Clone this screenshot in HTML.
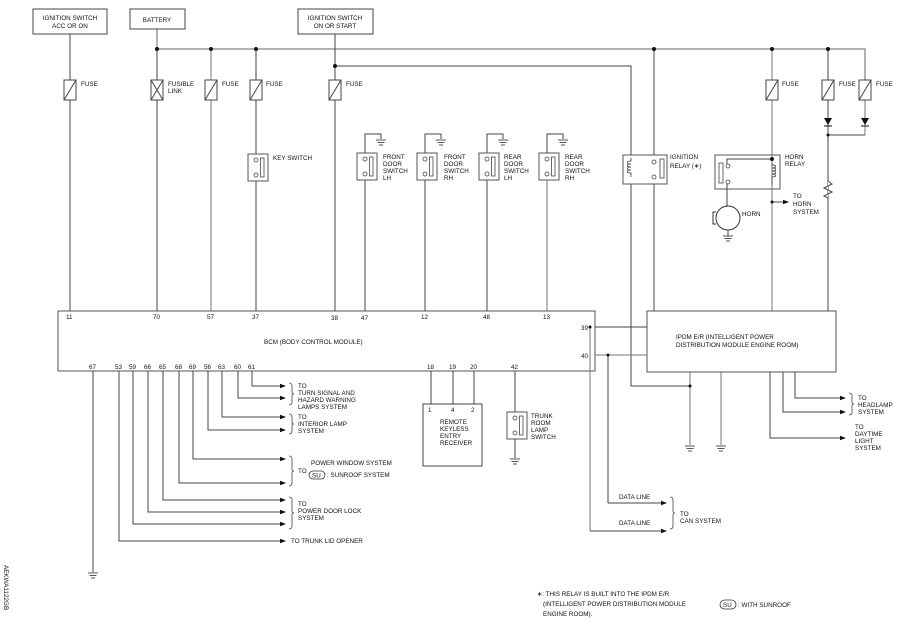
<!DOCTYPE html>
<html><head><meta charset="utf-8"><style>
html,body{margin:0;padding:0;background:#fff;}
svg{display:block;}
text{font-family:"Liberation Sans",sans-serif;font-size:6.3px;fill:#111;}
</style></head><body>
<svg width="907" height="633" viewBox="0 0 907 633" xmlns="http://www.w3.org/2000/svg">
<defs>
<marker id="ar" markerWidth="6" markerHeight="6" refX="5" refY="3" orient="auto" markerUnits="userSpaceOnUse"><path d="M0,0.8 L6,3 L0,5.2z" fill="#111"/></marker>
<g id="fuse"><rect x="-6" y="0" width="12" height="20" fill="#fff" stroke="#444" stroke-width="1"/><line x1="-6" y1="20" x2="6" y2="0" stroke="#444"/></g>
<g id="gnd"><line x1="-5" y1="0" x2="5" y2="0" stroke="#555"/><line x1="-3.5" y1="2.5" x2="3.5" y2="2.5" stroke="#555"/><line x1="-2" y1="5" x2="2" y2="5" stroke="#555"/></g>
<g id="sw"><rect x="0" y="0" width="20" height="27" fill="#fff" stroke="#555"/><circle cx="8" cy="6" r="2" fill="#fff" stroke="#444" stroke-width="0.8"/><circle cx="8" cy="21" r="2" fill="#fff" stroke="#444" stroke-width="0.8"/><rect x="12.5" y="4" width="3.5" height="19" fill="#fff" stroke="#444" stroke-width="0.8"/></g>
</defs>
<g stroke="#444" stroke-width="1" fill="none">
<!-- top boxes -->
<rect x="33" y="9" width="74" height="25"/>
<rect x="130" y="9" width="55" height="20"/>
<rect x="298" y="9" width="75" height="25"/>
<!-- bus -->
<polyline points="157,29 157,49 865,49 865,80" stroke="#666"/>
<polyline points="335,34 335,311"/>
<polyline points="335,66 631,66 631,160"/>
<line x1="70" y1="34" x2="70" y2="311"/>
<line x1="157" y1="49" x2="157" y2="311"/>
<line x1="211" y1="49" x2="211" y2="311" stroke="#777"/>
<line x1="256" y1="49" x2="256" y2="311"/>
<line x1="654" y1="49" x2="654" y2="311"/>
<line x1="772" y1="49" x2="772" y2="311" stroke="#777"/>
<line x1="828" y1="49" x2="828" y2="311"/>
<line x1="865" y1="80" x2="865" y2="135" stroke="#777"/>
<line x1="828" y1="135" x2="865" y2="135"/>
<!-- door switch grounds & wires -->
<polyline points="365,311 365,134 381,134 381,139"/>
<polyline points="425,311 425,134 441,134 441,139"/>
<polyline points="487,311 487,134 503,134 503,139"/>
<polyline points="547,311 547,134 563,134 563,139"/>
<line x1="547" y1="180" x2="547" y2="311" stroke="#777"/>
<!-- ignition relay lines -->
<polyline points="631,177 631,386 690,386"/>
<line x1="690" y1="372" x2="690" y2="445" stroke="#777"/>
<line x1="721" y1="372" x2="721" y2="445" stroke="#777"/>
<!-- horn relay -->
<polyline points="727,165 727,159 772,159"/>
<line x1="727" y1="182" x2="727" y2="206"/>
<line x1="772" y1="202" x2="788" y2="202" marker-end="url(#ar)"/>
<line x1="728" y1="230" x2="728" y2="236"/>
<!-- BCM & IPDM -->
<rect x="58" y="311" width="537" height="60" stroke="#555"/>
<rect x="647" y="311" width="189" height="61" stroke="#555"/>
<line x1="595" y1="327" x2="647" y2="327"/>
<line x1="595" y1="355" x2="647" y2="355" stroke="#777"/>
<line x1="590" y1="327" x2="590" y2="531" stroke="#777"/>
<line x1="608" y1="355" x2="608" y2="503"/>
<line x1="608" y1="503" x2="666" y2="503" marker-end="url(#ar)"/>
<line x1="590" y1="531" x2="666" y2="531" marker-end="url(#ar)"/>
<polyline points="795,372 795,398 845,398" marker-end="url(#ar)"/>
<polyline points="783,372 783,412 845,412" marker-end="url(#ar)"/>
<polyline points="770,372 770,438 845,438" marker-end="url(#ar)"/>
<!-- BCM bottom outputs -->
<polyline points="252,371 252,386 285,386" marker-end="url(#ar)"/>
<polyline points="238,371 238,398 285,398" marker-end="url(#ar)"/>
<polyline points="222,371 222,417 285,417" marker-end="url(#ar)"/>
<polyline points="208,371 208,430 285,430" marker-end="url(#ar)"/>
<polyline points="193,371 193,459 285,459" marker-end="url(#ar)"/>
<polyline points="179,371 179,483 285,483" marker-end="url(#ar)"/>
<polyline points="163,371 163,500 285,500" marker-end="url(#ar)"/>
<polyline points="148,371 148,512 285,512" marker-end="url(#ar)"/>
<polyline points="133,371 133,524 285,524" marker-end="url(#ar)"/>
<polyline points="119,371 119,541 285,541" marker-end="url(#ar)"/>
<line x1="93" y1="371" x2="93" y2="572"/>
<!-- keyless -->
<line x1="431" y1="371" x2="431" y2="404"/>
<line x1="453" y1="371" x2="453" y2="404"/>
<line x1="474" y1="371" x2="474" y2="404"/>
<rect x="423" y="404" width="59" height="62"/>
<line x1="515" y1="371" x2="515" y2="458"/>
<!-- braces -->
<path d="M289,383 q3,0 3,3 v6 q0,2 2,2 q-2,0 -2,2 v6 q0,3 -3,3" stroke-width="0.8"/>
<path d="M289,414 q3,0 3,3 v5 q0,2 2,2 q-2,0 -2,2 v5 q0,3 -3,3" stroke-width="0.8"/>
<path d="M289,456 q3,0 3,3 v10 q0,2 2,2 q-2,0 -2,2 v10 q0,3 -3,3" stroke-width="0.8"/>
<path d="M289,497 q3,0 3,3 v11 q0,2 2,2 q-2,0 -2,2 v11 q0,3 -3,3" stroke-width="0.8"/>
<path d="M670,497 q3,0 3,3 v11 q0,2 2,2 q-2,0 -2,2 v11 q0,3 -3,3" stroke-width="0.8"/>
<path d="M849,393 q3,0 3,3 v6 q0,2 2,2 q-2,0 -2,2 v6 q0,3 -3,3" stroke-width="0.8"/>
<!-- resistor -->
<polyline points="828,178 828,181 832,184 824,188 832,192 824,196 828,198 828,200" fill="#fff" stroke="#444"/>
</g>
<!-- fuses -->
<use href="#fuse" x="70" y="80"/>
<g><rect x="151" y="80" width="12" height="20" fill="#fff" stroke="#444"/><line x1="151" y1="80" x2="163" y2="100" stroke="#444"/><line x1="151" y1="100" x2="163" y2="80" stroke="#444"/></g>
<use href="#fuse" x="211" y="80"/>
<use href="#fuse" x="256" y="80"/>
<use href="#fuse" x="335" y="80"/>
<use href="#fuse" x="772" y="80"/>
<use href="#fuse" x="828" y="80"/>
<use href="#fuse" x="865" y="80"/>
<!-- diodes -->
<path d="M824,118 L832,118 L828,125z" fill="#111"/><line x1="824" y1="126" x2="832" y2="126" stroke="#111"/>
<path d="M861,118 L869,118 L865,125z" fill="#111"/><line x1="861" y1="126" x2="869" y2="126" stroke="#111"/>
<!-- switches -->
<use href="#sw" x="248" y="154"/>
<use href="#sw" x="357" y="153"/>
<use href="#sw" x="417" y="153"/>
<use href="#sw" x="479" y="153"/>
<use href="#sw" x="539" y="153"/>
<use href="#sw" x="507" y="412"/>
<!-- grounds -->
<use href="#gnd" x="381" y="140"/><use href="#gnd" x="441" y="140"/><use href="#gnd" x="503" y="140"/><use href="#gnd" x="563" y="140"/>
<use href="#gnd" x="690" y="446"/><use href="#gnd" x="721" y="446"/>
<use href="#gnd" x="515" y="459"/><use href="#gnd" x="93" y="573"/><use href="#gnd" x="728" y="236"/>
<!-- ignition relay -->
<rect x="623" y="155" width="44" height="29" fill="#fff" stroke="#555"/>
<path d="M631,158 v3 c-5,0 -5,3 0,3 c-5,0 -5,3 0,3 c-5,0 -5,3 0,3 c-5,0 -5,3 0,3 v4" fill="none" stroke="#333" stroke-width="0.8"/>
<circle cx="654" cy="162" r="2" fill="#fff" stroke="#444" stroke-width="0.8"/>
<circle cx="654" cy="177" r="2" fill="#fff" stroke="#444" stroke-width="0.8"/>
<rect x="660" y="159" width="4" height="19" fill="#fff" stroke="#444" stroke-width="0.8"/>
<!-- horn relay -->
<rect x="715" y="155" width="65" height="34" fill="none" stroke="#555"/>
<path d="M772,163 v2 c5,0 5,3 0,3 c5,0 5,3 0,3 c5,0 5,3 0,3 c5,0 5,3 0,3 v8" fill="none" stroke="#333" stroke-width="0.8"/>
<rect x="719" y="163" width="4" height="20" fill="#fff" stroke="#444" stroke-width="0.8"/>
<circle cx="728" cy="166" r="2" fill="#fff" stroke="#444" stroke-width="0.8"/>
<circle cx="728" cy="182" r="2" fill="#fff" stroke="#444" stroke-width="0.8"/>
<circle cx="728" cy="218" r="12" fill="#fff" stroke="#333"/>
<path d="M716,212 h-3 v12 h3" fill="none" stroke="#333"/>
<!-- dots -->
<g fill="#111">
<circle cx="157" cy="49" r="2"/><circle cx="211" cy="49" r="2"/><circle cx="256" cy="49" r="2"/><circle cx="654" cy="49" r="2"/><circle cx="772" cy="49" r="2"/><circle cx="828" cy="49" r="2"/><circle cx="335" cy="66" r="2"/><circle cx="828" cy="135" r="1.5"/><circle cx="772" cy="159" r="2"/><circle cx="772" cy="202" r="1.5"/><circle cx="590" cy="327" r="1.5"/><circle cx="608" cy="355" r="1.5"/><circle cx="690" cy="386" r="1.5"/>
</g>
<!-- text -->
<g text-anchor="middle">
<text x="70" y="20">IGNITION SWITCH</text><text x="70" y="28">ACC OR ON</text>
<text x="157" y="22">BATTERY</text>
<text x="335" y="20">IGNITION SWITCH</text><text x="335" y="28">ON OR START</text>
</g>
<text x="81" y="86">FUSE</text>
<text x="168" y="86">FUSIBLE</text><text x="168" y="93">LINK</text>
<text x="222" y="86">FUSE</text><text x="266" y="86">FUSE</text><text x="346" y="86">FUSE</text>
<text x="782" y="86">FUSE</text><text x="839" y="86">FUSE</text><text x="876" y="86">FUSE</text>
<text x="273" y="160">KEY SWITCH</text>
<text x="383" y="159">FRONT</text><text x="383" y="166">DOOR</text><text x="383" y="173">SWITCH</text><text x="383" y="180">LH</text>
<text x="444" y="159">FRONT</text><text x="444" y="166">DOOR</text><text x="444" y="173">SWITCH</text><text x="444" y="180">RH</text>
<text x="504" y="159">REAR</text><text x="504" y="166">DOOR</text><text x="504" y="173">SWITCH</text><text x="504" y="180">LH</text>
<text x="565" y="159">REAR</text><text x="565" y="166">DOOR</text><text x="565" y="173">SWITCH</text><text x="565" y="180">RH</text>
<text x="670" y="159">IGNITION</text><text x="670" y="168">RELAY (∗)</text>
<text x="785" y="159">HORN</text><text x="785" y="166">RELAY</text>
<text x="742" y="216">HORN</text>
<text x="793" y="198">TO</text><text x="793" y="206">HORN</text><text x="793" y="214">SYSTEM</text>
<text x="66" y="319">11</text><text x="153" y="319">70</text><text x="207" y="319">57</text><text x="252" y="319">37</text><text x="331" y="320">38</text><text x="361" y="320">47</text><text x="421" y="319">12</text><text x="483" y="319">48</text><text x="543" y="319">13</text>
<text x="264" y="344">BCM (BODY CONTROL MODULE)</text>
<text x="581" y="330">39</text><text x="581" y="358">40</text>
<text x="676" y="339">IPDM E/R (INTELLIGENT POWER</text><text x="676" y="347">DISTRIBUTION MODULE ENGINE ROOM)</text>
<text x="89" y="369">67</text><text x="115" y="369">53</text><text x="129" y="369">59</text><text x="144" y="369">66</text><text x="159" y="369">65</text><text x="175" y="369">68</text><text x="189" y="369">69</text><text x="204" y="369">56</text><text x="218" y="369">63</text><text x="234" y="369">60</text><text x="248" y="369">61</text>
<text x="427" y="369">18</text><text x="449" y="369">19</text><text x="470" y="369">20</text><text x="511" y="369">42</text>
<text x="428" y="412">1</text><text x="451" y="412">4</text><text x="471" y="412">2</text>
<text x="440" y="424">REMOTE</text><text x="440" y="431">KEYLESS</text><text x="440" y="438">ENTRY</text><text x="440" y="445">RECEIVER</text>
<text x="531" y="418">TRUNK</text><text x="531" y="425">ROOM</text><text x="531" y="432">LAMP</text><text x="531" y="439">SWITCH</text>
<text x="298" y="388">TO</text><text x="298" y="395">TURN SIGNAL AND</text><text x="298" y="402">HAZARD WARNING</text><text x="298" y="409">LAMPS SYSTEM</text>
<text x="298" y="419">TO</text><text x="298" y="426">INTERIOR LAMP</text><text x="298" y="433">SYSTEM</text>
<text x="311" y="465">POWER WINDOW SYSTEM</text>
<text x="298" y="473">TO</text>
<rect x="309" y="471" width="16" height="8" rx="4" fill="none" stroke="#333" stroke-width="0.8"/><text x="312" y="477.5">SU</text>
<text x="327" y="477">: SUNROOF SYSTEM</text>
<text x="298" y="506">TO</text><text x="298" y="513">POWER DOOR LOCK</text><text x="298" y="520">SYSTEM</text>
<text x="291" y="543">TO TRUNK LID OPENER</text>
<text x="619" y="499">DATA LINE</text><text x="619" y="525">DATA LINE</text>
<text x="680" y="516">TO</text><text x="680" y="523">CAN SYSTEM</text>
<text x="858" y="400">TO</text><text x="858" y="407">HEADLAMP</text><text x="858" y="414">SYSTEM</text>
<text x="855" y="429">TO</text><text x="855" y="436">DAYTIME</text><text x="855" y="443">LIGHT</text><text x="855" y="450">SYSTEM</text>
<text x="537" y="596">∗: THIS RELAY IS BUILT INTO THE IPDM E/R</text>
<text x="543" y="606">(INTELLIGENT POWER DISTRIBUTION MODULE</text>
<text x="543" y="616">ENGINE ROOM).</text>
<rect x="720" y="600" width="16" height="9" rx="4.5" fill="none" stroke="#333" stroke-width="0.8"/><text x="723" y="607">SU</text>
<text x="738" y="607">: WITH SUNROOF</text>
<text transform="translate(4,565) rotate(90)" font-size="6.5">AEKWA1122GB</text>
</svg>
</body></html>
